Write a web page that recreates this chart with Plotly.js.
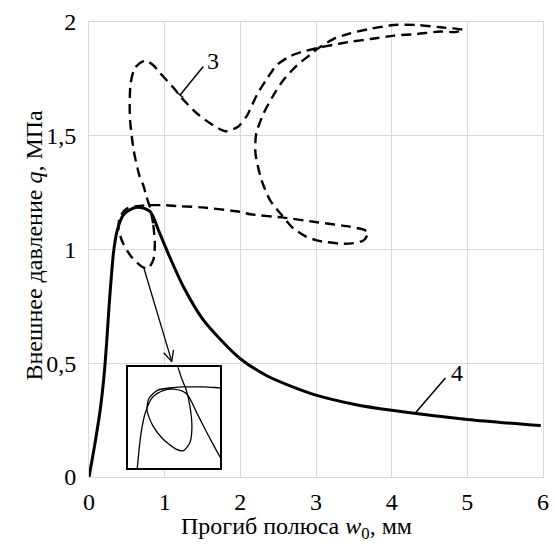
<!DOCTYPE html>
<html>
<head>
<meta charset="utf-8">
<script src="https://cdn.plot.ly/plotly-3.0.1.min.js"></script>
<style>html,body{margin:0;padding:0;background:#fff;}#chart{width:555px;height:548px;}</style>
</head>
<body>
<div id="chart"></div>
<script>
// Curve 4 (solid)
const w4 = [0, 0.08, 0.15, 0.2, 0.235, 0.265, 0.295, 0.325, 0.37, 0.45, 0.57, 0.68, 0.81, 0.93, 1.05, 1.25, 1.5, 1.75, 2.0, 2.35, 2.7, 3.0, 3.5, 4.0, 5.0, 5.97];
const q4 = [0, 0.15, 0.3, 0.45, 0.6, 0.75, 0.88, 0.99, 1.08, 1.15, 1.18, 1.185, 1.166, 1.075, 0.98, 0.835, 0.695, 0.6, 0.52, 0.445, 0.395, 0.36, 0.32, 0.293, 0.253, 0.226];

// Curve 3 (dashed, closed path)
const w3 = [0.81, 0.85, 0.87, 0.85, 0.78, 0.70, 0.56, 0.45, 0.39, 0.41, 0.50, 0.63, 0.76, 0.87, 1.0, 1.2, 1.5, 2.0, 2.13, 2.57, 3.01, 3.45, 3.62, 3.69, 3.63, 3.5, 3.36, 3.15, 3.01, 2.85, 2.70, 2.55, 2.39, 2.28, 2.2, 2.21, 2.31, 2.44, 2.57, 2.75, 2.92, 3.01, 3.23, 3.45, 3.72, 4.03, 4.33, 4.64, 4.95, 4.85, 4.64, 4.33, 4.03, 3.72, 3.45, 3.23, 3.01, 2.83, 2.66, 2.48, 2.35, 2.22, 2.09, 1.97, 1.8, 1.6, 1.42, 1.25, 1.12, 0.94, 0.85, 0.74, 0.61, 0.55, 0.54, 0.59, 0.67, 0.72, 0.76, 0.81];
const q3 = [1.18, 1.108, 1.02, 0.954, 0.917, 0.924, 0.968, 1.027, 1.093, 1.144, 1.18, 1.19, 1.195, 1.195, 1.195, 1.19, 1.185, 1.165, 1.155, 1.14, 1.12, 1.10, 1.088, 1.075, 1.04, 1.028, 1.025, 1.032, 1.04, 1.06, 1.093, 1.15, 1.218, 1.305, 1.423, 1.51, 1.60, 1.68, 1.745, 1.81, 1.855, 1.88, 1.925, 1.95, 1.97, 1.987, 1.987, 1.977, 1.965, 1.956, 1.958, 1.947, 1.94, 1.925, 1.913, 1.90, 1.885, 1.87, 1.85, 1.81, 1.75, 1.68, 1.59, 1.54, 1.52, 1.555, 1.60, 1.657, 1.71, 1.775, 1.81, 1.83, 1.80, 1.73, 1.584, 1.437, 1.32, 1.28, 1.232, 1.18];

const xTicks = [0, 1, 2, 3, 4, 5, 6];
const yTicks = [0, 0.5, 1, 1.5, 2];

const FONT = '"Liberation Serif", "Times New Roman", serif';
const grid = '#d9d9d9';

const traces = [
  {x: w3, y: q3, mode: 'lines', line: {color: '#000', width: 2.4, dash: '10px,6px', shape: 'spline', smoothing: 0.7}, xaxis: 'x', yaxis: 'y', hoverinfo: 'none'},
  {x: w4, y: q4, mode: 'lines', line: {color: '#000', width: 3, shape: 'spline', smoothing: 0.8}, xaxis: 'x', yaxis: 'y', hoverinfo: 'none'},
  {x: w3, y: q3, mode: 'lines', line: {color: '#000', width: 1.3, shape: 'spline', smoothing: 0.7}, xaxis: 'x2', yaxis: 'y2', hoverinfo: 'none'},
  {x: w4, y: q4, mode: 'lines', line: {color: '#000', width: 1.3, shape: 'spline', smoothing: 0.8}, xaxis: 'x2', yaxis: 'y2', hoverinfo: 'none'}
];

const layout = {
  width: 555, height: 548,
  margin: {l: 89, r: 12, t: 22, b: 71},
  paper_bgcolor: '#fff', plot_bgcolor: '#fff',
  showlegend: false,
  separators: ', ',
  font: {family: FONT, color: '#000', size: 24},
  xaxis: {
    range: [0, 6], tickvals: xTicks, ticktext: xTicks.map(String),
    showgrid: true, gridcolor: grid, gridwidth: 1, zeroline: false,
    showline: true, linecolor: grid, linewidth: 1, mirror: true,
    ticks: '', ticklabelstandoff: 3,
    tickfont: {family: FONT, size: 24, color: '#000'}
  },
  yaxis: {
    range: [0, 2], tickvals: yTicks, ticktext: yTicks.map(v => String(v).replace('.', ',')),
    showgrid: true, gridcolor: grid, gridwidth: 1, zeroline: false,
    showline: true, linecolor: grid, linewidth: 1, mirror: true,
    ticks: '', ticklabelstandoff: 7,
    tickfont: {family: FONT, size: 24, color: '#000'}
  },
  xaxis2: {
    domain: [0.0866, 0.2885], anchor: 'y2', range: [0.19, 1.17],
    showgrid: false, zeroline: false, showticklabels: false, ticks: '',
    showline: true, linecolor: '#000', linewidth: 2, mirror: true
  },
  yaxis2: {
    domain: [0.019, 0.241], anchor: 'x2', range: [0.84, 1.28],
    showgrid: false, zeroline: false, showticklabels: false, ticks: '',
    showline: true, linecolor: '#000', linewidth: 2, mirror: true
  },
  shapes: [
    {type: 'line', xref: 'x', yref: 'y', x0: 1.51, y0: 1.804, x1: 1.204, y1: 1.679, line: {color: '#000', width: 1.5}},
    {type: 'line', xref: 'x', yref: 'y', x0: 1.163, y0: 1.690, x1: 1.245, y1: 1.668, line: {color: '#000', width: 1.5}},
    {type: 'line', xref: 'x', yref: 'y', x0: 4.71, y0: 0.435, x1: 4.31, y1: 0.28, line: {color: '#000', width: 1.5}},
    {type: 'line', xref: 'x', yref: 'y', x0: 0.72, y0: 0.924, x1: 1.094, y1: 0.507, line: {color: '#000', width: 1.3}},
    {type: 'line', xref: 'x', yref: 'y', x0: 1.094, y0: 0.507, x1: 1.116, y1: 0.559, line: {color: '#000', width: 1.3}},
    {type: 'line', xref: 'x', yref: 'y', x0: 1.094, y0: 0.507, x1: 0.988, y1: 0.546, line: {color: '#000', width: 1.3}}
  ],
  annotations: [
    {x: 1.64, y: 1.83, xref: 'x', yref: 'y', text: '3', showarrow: false, font: {family: FONT, size: 24, color: '#000'}},
    {x: 4.86, y: 0.456, xref: 'x', yref: 'y', text: '4', showarrow: false, font: {family: FONT, size: 24, color: '#000'}},
    {x: 0.456, y: -0.113, xref: 'paper', yref: 'paper', xanchor: 'center', yanchor: 'middle', showarrow: false,
     text: 'Прогиб полюса <i>w</i><sub>0</sub>, мм', font: {family: FONT, size: 24, color: '#000'}},
    {x: -0.122, y: 0.51, xref: 'paper', yref: 'paper', xanchor: 'center', yanchor: 'middle', textangle: -90, showarrow: false,
     text: 'Внешнее давление <i>q</i>, МПа', font: {family: FONT, size: 24, color: '#000'}}
  ]
};

Plotly.newPlot('chart', traces, layout, {staticPlot: true, displayModeBar: false});
</script>
</body>
</html>
